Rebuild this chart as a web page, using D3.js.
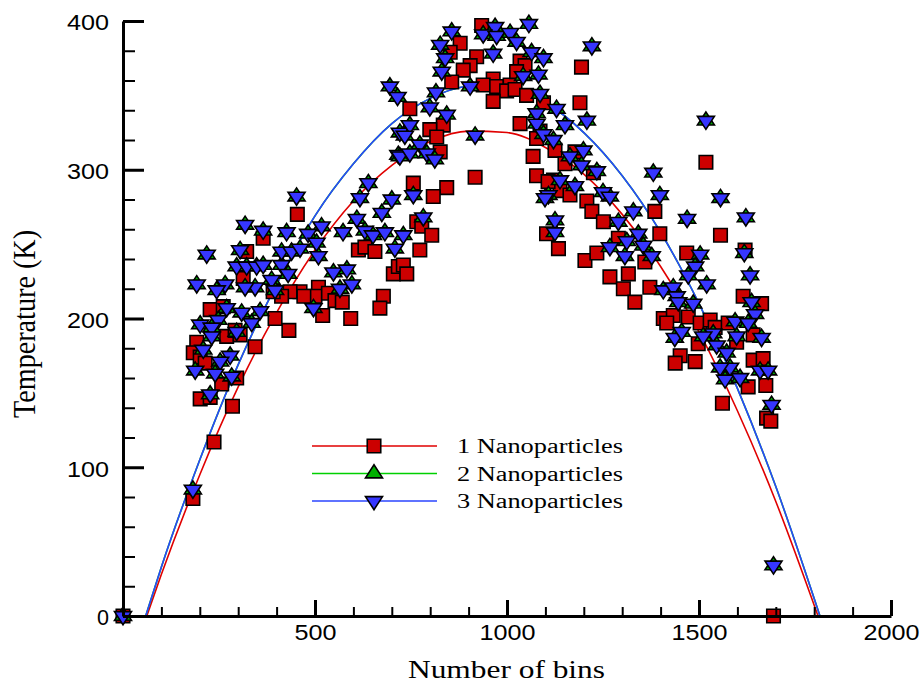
<!DOCTYPE html>
<html><head><meta charset="utf-8">
<script src="https://cdn.jsdelivr.net/npm/d3@7"></script>
<style>body{margin:0;background:#fff}svg{display:block}</style>
</head><body><svg id="chart" width="921" height="684"></svg>
<script>
// ---------------- data ----------------
const xMajorTicks = [500, 1000, 1500, 2000];
const xMinorTicks = [100, 200, 300, 400, 600, 700, 800, 900, 1100, 1200, 1300, 1400, 1600, 1700, 1800, 1900];
const yMajorTicks = [0, 100, 200, 300, 400];
const yMinorTicks = [20, 40, 60, 80, 120, 140, 160, 180, 220, 240, 260, 280, 320, 340, 360, 380];
const seriesNames = ["1 Nanoparticles", "2 Nanoparticles", "3 Nanoparticles"];
const xTitle = "Number of bins";
const yTitle = "Temperature (K)";

// [number of bins, temperature K]
const nano1 = [[0,0],[182,79],[237,117],[365,254],[613,246],[630,248],[656,245],[704,230],[717,235],[322,245],
[313,227],[509,221],[500,215],[461,218],[471,215],[435,218],[413,215],[391,218],[535,217],[552,212],
[571,211],[678,215],[669,207],[520,202],[593,200],[396,200],[432,192],[344,181],[227,206],[261,208],
[270,188],[292,192],[305,189],[192,184],[183,177],[201,174],[214,170],[257,156],[296,160],[201,146],
[227,147],[285,141],[454,270],[934,397],[878,385],[852,379],[921,376],[904,370],[886,367],[856,359],
[964,361],[938,357],[973,356],[1008,357],[999,353],[1021,354],[1034,373],[1047,370],[1025,366],[1051,350],
[964,346],[1095,345],[1194,369],[1190,345],[747,341],[834,330],[799,327],[817,322],[826,312],[1034,331],
[1086,326],[1077,321],[1125,313],[1068,309],[1151,304],[1177,312],[917,295],[756,291],[843,288],[808,282],
[1077,296],[1121,293],[1138,286],[1225,298],[765,265],[778,262],[804,256],[773,246],[730,236],[739,230],
[1107,292],[1164,283],[1208,279],[1221,272],[1251,265],[1103,257],[1134,247],[1203,239],[1234,244],[1290,254],
[1268,228],[1316,230],[1303,220],[1372,221],[1333,211],[1359,238],[1385,272],[1398,257],[1407,200],[1433,202],
[1416,197],[1518,305],[1556,256],[1468,244],[1620,246],[1615,215],[1663,210],[1472,201],[1503,197],[1529,199],
[1542,194],[1576,197],[1598,184],[1451,175],[1438,170],[1490,171],[1498,183],[1641,172],[1667,173],[1628,154],
[1674,155],[1561,143],[1676,133],[1687,131],[1641,189],[1694,0]];

const nano2 = [[0,0],[182,85],[452,282],[639,291],[617,281],[700,280],[674,271],[609,267],[695,356],[715,349],
[717,310],[721,325],[318,263],[365,259],[426,258],[482,257],[517,262],[573,258],[630,259],[651,256],
[682,258],[708,247],[218,243],[305,246],[413,245],[439,245],[461,247],[504,251],[509,242],[296,235],
[322,235],[348,235],[365,236],[413,236],[430,230],[387,226],[344,221],[318,221],[266,223],[244,219],
[192,223],[396,219],[548,231],[583,233],[565,220],[596,223],[496,207],[270,207],[248,199],[309,204],
[357,205],[335,197],[201,196],[231,194],[231,188],[296,191],[209,179],[279,175],[253,171],[240,163],
[188,165],[283,161],[227,149],[856,393],[826,384],[839,375],[830,366],[969,396],[938,391],[973,390],
[1008,392],[1025,386],[1057,398],[1064,379],[1095,375],[964,378],[904,356],[815,352],[799,342],[843,337],
[747,330],[734,323],[773,317],[721,309],[747,311],[791,311],[812,307],[917,323],[1042,363],[1082,364],
[1086,351],[1129,341],[1151,330],[1208,333],[1077,338],[1077,331],[1095,324],[1121,320],[1164,309],[1199,313],
[1194,303],[1234,299],[1221,383],[1138,293],[1177,289],[1381,298],[1398,283],[756,283],[1250,285],[1268,282],
[1108,283],[782,268],[730,256],[1099,281],[1125,266],[1125,258],[1290,265],[1329,272],[1268,248],[1312,252],
[1342,257],[1307,242],[1355,249],[1377,242],[1407,219],[1433,221],[1442,215],[1437,187],[1556,281],[1469,267],
[1622,268],[1503,243],[1490,235],[1472,229],[1618,244],[1633,229],[1520,223],[1446,211],[1485,210],[1637,211],
[1646,203],[1594,198],[1628,197],[1537,190],[1455,191],[1598,188],[1663,187],[1511,188],[1546,182],[1572,177],
[1581,167],[1555,167],[1568,159],[1607,160],[1659,165],[1680,165],[1689,142],[1694,34],[1518,333]];

const nano3 = [[0,0],[182,85],[452,282],[639,291],[617,281],[700,280],[674,271],[609,267],[695,356],[715,349],
[717,310],[721,325],[318,263],[365,259],[426,258],[482,257],[517,262],[573,258],[630,259],[651,256],
[682,258],[708,247],[218,243],[305,246],[413,245],[439,245],[461,247],[504,251],[509,242],[296,235],
[322,235],[348,235],[365,236],[413,236],[430,230],[387,226],[344,221],[318,221],[266,223],[244,219],
[192,223],[396,219],[548,231],[583,233],[565,220],[596,223],[496,207],[270,207],[248,199],[309,204],
[357,205],[335,197],[201,196],[231,194],[231,188],[296,191],[209,179],[279,175],[253,171],[240,163],
[188,165],[283,161],[227,149],[856,393],[826,384],[839,375],[830,366],[969,396],[938,391],[973,390],
[1008,392],[1025,386],[1057,398],[1064,379],[1095,375],[964,378],[904,356],[815,352],[799,342],[843,337],
[747,330],[734,323],[773,317],[721,309],[747,311],[791,311],[812,307],[917,323],[1042,363],[1082,364],
[1086,351],[1129,341],[1151,330],[1208,333],[1077,338],[1077,331],[1095,324],[1121,320],[1164,309],[1199,313],
[1194,303],[1234,299],[1221,383],[1138,293],[1177,289],[1381,298],[1398,283],[756,283],[1250,285],[1268,282],
[1108,283],[782,268],[730,256],[1099,281],[1125,266],[1125,258],[1290,265],[1329,272],[1268,248],[1312,252],
[1342,257],[1307,242],[1355,249],[1377,242],[1407,219],[1433,221],[1442,215],[1437,187],[1556,281],[1469,267],
[1622,268],[1503,243],[1490,235],[1472,229],[1618,244],[1633,229],[1520,223],[1446,211],[1485,210],[1637,211],
[1646,203],[1594,198],[1628,197],[1537,190],[1455,191],[1598,188],[1663,187],[1511,188],[1546,182],[1572,177],
[1581,167],[1555,167],[1568,159],[1607,160],[1659,165],[1680,165],[1689,142],[1694,34],[1518,333]];

// fitted curves
const fit1 = [[62,0],[100,28],[200,95],[300,154],[400,204],[500,246],[600,279],[700,303],[800,319],[900,326],
[1000,325],[1100,315],[1200,297],[1300,270],[1400,235],[1500,191],[1600,138],[1700,77],[1810,0]];
const fit2 = [[59,0],[100,33],[200,105],[300,169],[400,223],[500,269],[600,304],[700,331],[800,348],[900,356],
[1000,355],[1100,345],[1200,325],[1300,296],[1400,258],[1500,210],[1600,153],[1700,87],[1815,0]];
const fit3 = [[59,0],[100,33],[200,105],[300,169],[400,223],[500,269],[600,304],[700,331],[800,348],[900,356],
[1000,355],[1100,345],[1200,325],[1300,296],[1400,258],[1500,210],[1600,153],[1700,87],[1815,0]];

// ---------------- drawing ----------------
const svg = d3.select("#chart");
const x = d3.scaleLinear().domain([0, 2000]).range([123, 891]);
const y = d3.scaleLinear().domain([0, 400]).range([616, 21]);

const styles = [
  {line: "#e00000", fill: "#cc0000", shape: "square"},
  {line: "#00d000", fill: "#00b000", shape: "up"},
  {line: "#2a44ff", fill: "#3636ff", shape: "down"}
];
const TW = 17, TH = 13, SQ = 13.5;
function markerPath(shape) {
  if (shape === "square") return `M${-SQ/2},${-SQ/2}h${SQ}v${SQ}h${-SQ}Z`;
  if (shape === "up") return `M${-TW/2},${TH/3}L${TW/2},${TH/3}L0,${-2*TH/3}Z`;
  return `M${-TW/2},${-TH/3}L${TW/2},${-TH/3}L0,${2*TH/3}Z`;
}

const line = d3.line().x(d => x(d[0])).y(d => y(d[1])).curve(d3.curveMonotoneX);
const fits = [fit1, fit2, fit3];
const series = [nano1, nano2, nano3];

const gPlot = svg.append("g");
fits.forEach((f, i) => {
  gPlot.append("path").datum(f).attr("d", line)
    .attr("fill", "none").attr("stroke", styles[i].line).attr("stroke-width", 1.6);
});
series.forEach((s, i) => {
  gPlot.append("g").selectAll("path").data(s).join("path")
    .attr("transform", d => `translate(${x(d[0])},${y(d[1])})`)
    .attr("d", markerPath(styles[i].shape))
    .attr("fill", styles[i].fill).attr("stroke", "#000").attr("stroke-width", 1.6)
    .attr("stroke-linejoin", "miter");
});

// axes
const fontSans = "'Liberation Sans', Arial, sans-serif";
const fontSerif = "'Liberation Serif', 'Times New Roman', serif";
const fmt = d3.format("d");

const gxMinor = svg.append("g").attr("transform", `translate(0,${y(0)})`)
  .call(d3.axisBottom(x).tickValues(xMinorTicks).tickSize(-9).tickFormat(""));
gxMinor.select(".domain").remove();
gxMinor.selectAll(".tick line").attr("stroke", "#000").attr("stroke-width", 2);

const gx = svg.append("g").attr("transform", `translate(0,${y(0)})`)
  .call(d3.axisBottom(x).tickValues(xMajorTicks).tickFormat(fmt).tickSize(-16).tickSizeOuter(0).tickPadding(8.5));
gx.select(".domain").attr("stroke", "#000").attr("stroke-width", 3);
gx.selectAll(".tick line").attr("stroke", "#000").attr("stroke-width", 3);
gx.selectAll(".tick text").attr("font-family", fontSans).attr("font-size", 22).attr("fill", "#000")
  .attr("textLength", d => fmt(d).length * 14).attr("lengthAdjust", "spacingAndGlyphs");

const gyMinor = svg.append("g").attr("transform", `translate(${x(0)},0)`)
  .call(d3.axisLeft(y).tickValues(yMinorTicks).tickSize(-12).tickFormat(""));
gyMinor.select(".domain").remove();
gyMinor.selectAll(".tick line").attr("stroke", "#000").attr("stroke-width", 2);

const gy = svg.append("g").attr("transform", `translate(${x(0)},0)`)
  .call(d3.axisLeft(y).tickValues(yMajorTicks).tickFormat(fmt).tickSize(-21).tickSizeOuter(0).tickPadding(14));
gy.select(".domain").attr("stroke", "#000").attr("stroke-width", 3);
gy.selectAll(".tick line").attr("stroke", "#000").attr("stroke-width", 3);
gy.selectAll(".tick text").attr("font-family", fontSans).attr("font-size", 22).attr("fill", "#000")
  .attr("dy", "0.4em")
  .attr("textLength", d => d === 0 ? 12 : fmt(d).length * 14).attr("lengthAdjust", "spacingAndGlyphs");

// titles
svg.append("text").attr("x", 506.5).attr("y", 678).attr("text-anchor", "middle")
  .attr("font-family", fontSerif).attr("font-size", 25).attr("fill", "#000")
  .attr("textLength", 197).attr("lengthAdjust", "spacingAndGlyphs").text(xTitle);

svg.append("text").attr("transform", "translate(35,324) scale(1.2,1) rotate(-90)")
  .attr("text-anchor", "middle")
  .attr("font-family", fontSerif).attr("font-size", 26).attr("fill", "#000")
  .attr("textLength", 188).attr("lengthAdjust", "spacingAndGlyphs").text(yTitle);

// legend
const legendY = [446, 473.5, 501];
const gLeg = svg.append("g");
seriesNames.forEach((name, i) => {
  const ly = legendY[i];
  gLeg.append("line").attr("x1", 312).attr("x2", 437).attr("y1", ly).attr("y2", ly)
    .attr("stroke", styles[i].line).attr("stroke-width", 1.6);
  gLeg.append("path").attr("transform", `translate(374,${ly})`)
    .attr("d", markerPath(styles[i].shape))
    .attr("fill", styles[i].fill).attr("stroke", "#000").attr("stroke-width", 1.6);
  gLeg.append("text").attr("x", 457).attr("y", ly + 7)
    .attr("font-family", fontSerif).attr("font-size", 20).attr("fill", "#000")
    .attr("textLength", 166).attr("lengthAdjust", "spacingAndGlyphs").text(name);
});
</script>
</body></html>
